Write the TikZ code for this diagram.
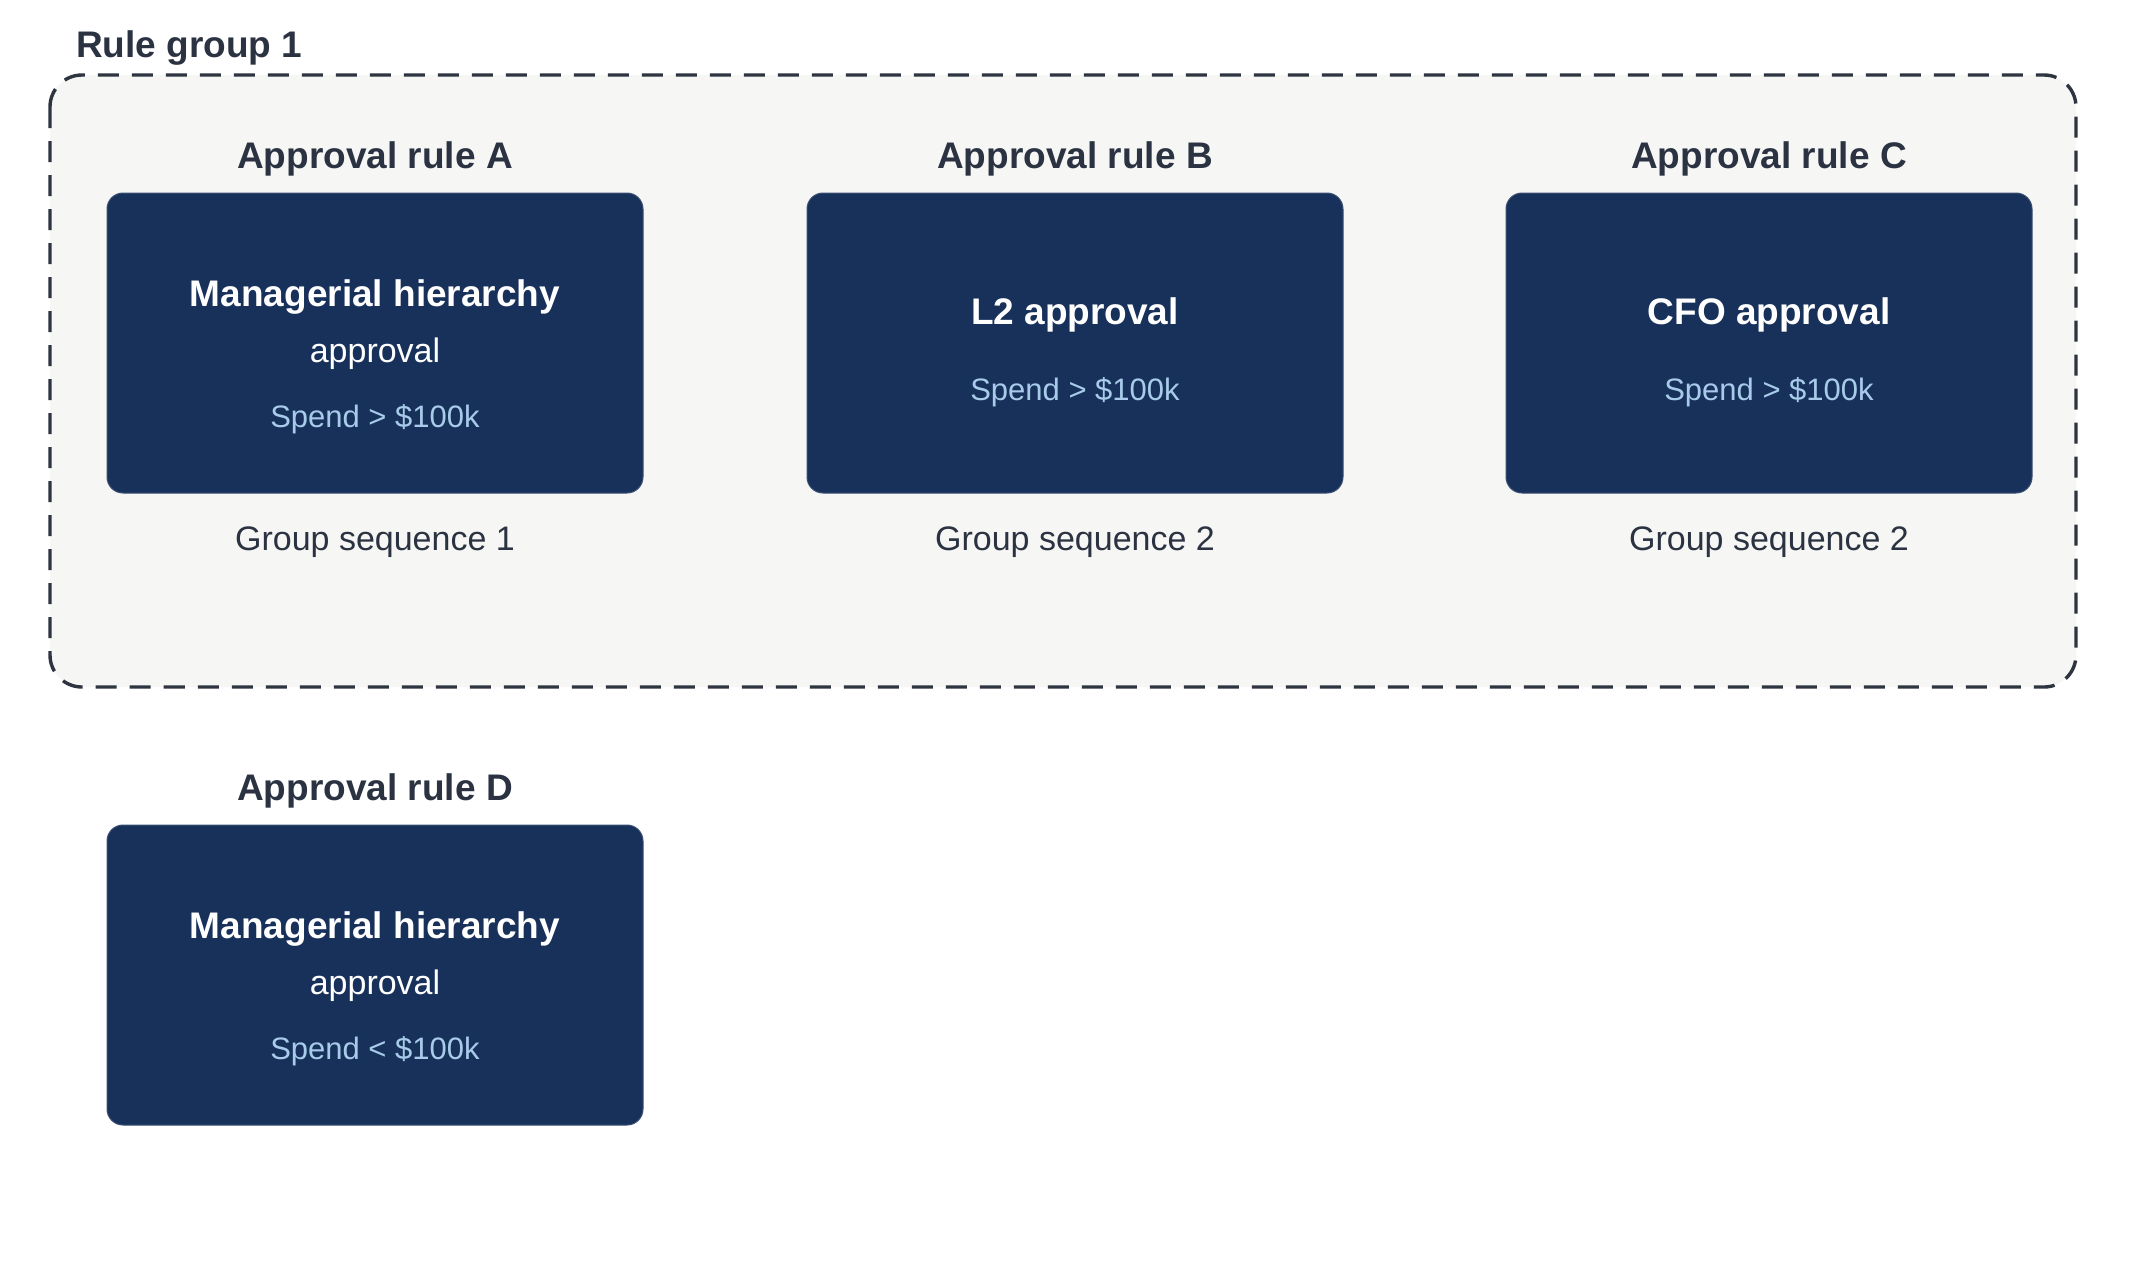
\documentclass[tikz,border=0pt]{standalone}
\usepackage{fontspec}
\setmainfont{Liberation Sans}
\usepackage{xcolor}
\usepackage{tikz}
\usetikzlibrary{positioning,calc}
\definecolor{rnavy}{HTML}{18315B}
\definecolor{rink}{HTML}{2B3342}
\definecolor{rspend}{HTML}{A8CBEA}
\definecolor{rgroupbg}{HTML}{F6F6F4}
\definecolor{rdash}{HTML}{2E3440}

\begin{document}
\begin{tikzpicture}[x=0.5pt, y=-0.5pt,
  groupframe/.style={draw=rdash, fill=rgroupbg, line width=1.7pt, dash pattern=on 10.5pt off 6.5pt, rounded corners=16pt},
  rulebox/.style={draw=rnavy!85!white, line width=0.5pt, fill=rnavy, rounded corners=8pt, minimum width=268pt, minimum height=150pt},
  ruletitle/.style={font=\fontsize{18.5}{22}\selectfont\bfseries, text=rink, anchor=base},
  head/.style={font=\fontsize{18.5}{22}\selectfont\bfseries, text=white, anchor=base},
  sub/.style={font=\fontsize{17}{20}\selectfont, text=white, anchor=base},
  spend/.style={font=\fontsize{15.5}{18}\selectfont, text=rspend, anchor=base},
  seq/.style={font=\fontsize{17}{20}\selectfont, text=rink, anchor=base}]
\useasboundingbox[fill=white] (0,0) rectangle (2156,1281);
% rule group 1
\draw[groupframe] (50,75) rectangle (2076,687);
\node[ruletitle, anchor=base west] (grptitle) at (69,57) {Rule group 1};
% the rule cards
\node[rulebox] (boxA) at (375,343) {};
\node[rulebox] (boxB) at (1075,343) {};
\node[rulebox, minimum width=263pt] (boxC) at (1769,343) {};
\node[rulebox] (boxD) at (375,975) {};
% titles above the cards
\node[ruletitle] (ttlA) at ($(boxA.north)+(0,-24)$) {Approval rule A};
\node[ruletitle] (ttlB) at ($(boxB.north)+(0,-24)$) {Approval rule B};
\node[ruletitle] (ttlC) at ($(boxC.north)+(0,-24)$) {Approval rule C};
\node[ruletitle] (ttlD) at ($(boxD.north)+(0,-24)$) {Approval rule D};
% card contents
\node[head] (headA) at ($(boxA.north)+(0,114)$) {Managerial hierarchy};
\node[sub] (subA) at ($(boxA.north)+(0,170)$) {approval};
\node[spend] (spendA) at ($(boxA.north)+(0,235)$) {Spend > \$100k};
\node[head] (headB) at ($(boxB.north)+(0,132)$) {L2 approval};
\node[spend] (spendB) at ($(boxB.north)+(0,208)$) {Spend > \$100k};
\node[head] (headC) at ($(boxC.north)+(0,132)$) {CFO approval};
\node[spend] (spendC) at ($(boxC.north)+(0,208)$) {Spend > \$100k};
\node[head] (headD) at ($(boxD.north)+(0,114)$) {Managerial hierarchy};
\node[sub] (subD) at ($(boxD.north)+(0,170)$) {approval};
\node[spend] (spendD) at ($(boxD.north)+(0,235)$) {Spend < \$100k};
% group sequence labels
\node[seq] (seqA) at ($(boxA.south)+(0,57)$) {Group sequence 1};
\node[seq] (seqB) at ($(boxB.south)+(0,57)$) {Group sequence 2};
\node[seq] (seqC) at ($(boxC.south)+(0,57)$) {Group sequence 2};
\end{tikzpicture}
\end{document}
